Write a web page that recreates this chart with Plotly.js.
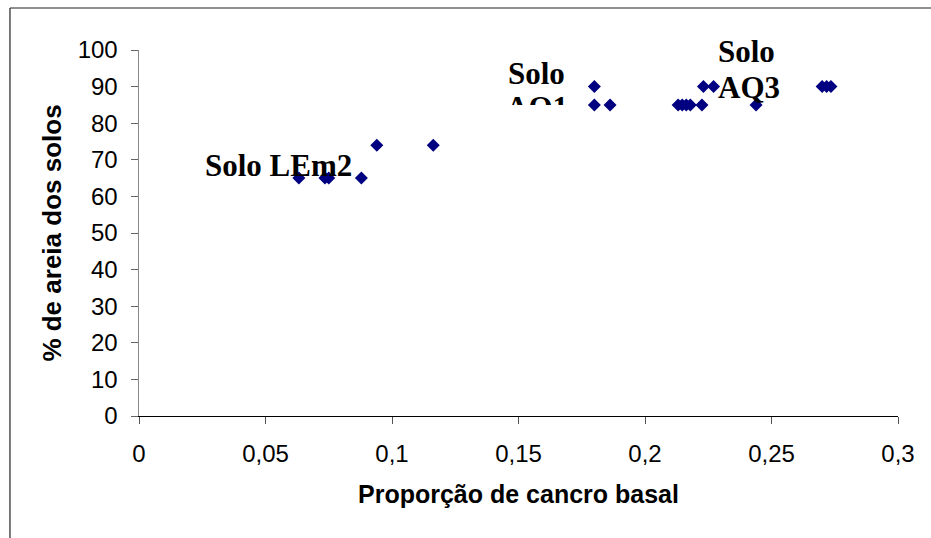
<!DOCTYPE html>
<html>
<head>
<meta charset="utf-8">
<script src="https://cdn.plot.ly/plotly-3.0.1.min.js"></script>
<style>html,body{margin:0;padding:0;background:#fff;}#chart{width:931px;height:538px;}</style>
</head>
<body>
<div id="chart"></div>
<script>
// Data
var proporcaoCancro = [0.0632, 0.0735, 0.0750, 0.0879, 0.0940, 0.1163, 0.1800, 0.1800, 0.1862, 0.2131, 0.2147, 0.2163, 0.2179, 0.2225, 0.2231, 0.2271, 0.2439, 0.2700, 0.2718, 0.2735];
var areiaSolo      = [65, 65, 65, 65, 74, 74, 90, 85, 85, 85, 85, 85, 85, 85, 90, 90, 85, 90, 90, 90];

var xTitle = "Proporção de cancro basal";
var yTitle = "% de areia dos solos";
var labelTexts = ["Solo LEm2", "Solo", "AQ1", "Solo", "AQ3"];

var trace = {
  x: proporcaoCancro,
  y: areiaSolo,
  type: "scatter",
  mode: "markers",
  marker: {symbol: "diamond", size: 10, color: "#000080", line: {width: 0}},
  showlegend: false,
  hoverinfo: "x+y"
};

var labelFont = {family: "Liberation Serif, Times New Roman, serif", size: 31, color: "#000"};
function lab(t, x, y) {
  return {text: "<b>" + t + "</b>", x: x, y: y, xref: "x", yref: "y", showarrow: false,
          xanchor: "center", yanchor: "middle", font: labelFont};
}

var layout = {
  width: 931, height: 538,
  margin: {l: 139, r: 33, t: 50, b: 122, autoexpand: false},
  paper_bgcolor: "#fff", plot_bgcolor: "#fff",
  separators: ",.",
  font: {family: "Liberation Sans, Arial, sans-serif", color: "#000"},
  xaxis: {
    range: [0, 0.3], dtick: 0.05, tick0: 0,
    showgrid: false, zeroline: false,
    showline: true, linecolor: "#000", linewidth: 1,
    ticks: "outside", ticklen: 7, tickcolor: "#555", tickwidth: 1,
    tickfont: {size: 24, family: "Liberation Sans, Arial, sans-serif", color: "#000"},
    ticklabelstandoff: 9,
    automargin: false,
    title: {text: "<b>" + xTitle + "</b>", font: {size: 25, family: "Liberation Sans, Arial, sans-serif", color: "#000"}, standoff: 19}
  },
  yaxis: {
    range: [0, 100], dtick: 10, tick0: 0,
    showgrid: false, zeroline: false,
    showline: true, linecolor: "#888", linewidth: 1.5,
    ticks: "outside", ticklen: 7, tickcolor: "#666", tickwidth: 1,
    tickfont: {size: 24, family: "Liberation Sans, Arial, sans-serif", color: "#000"},
    ticklabelstandoff: 8,
    automargin: false,
    title: {text: "<b>" + yTitle + "</b>", font: {size: 26, family: "Liberation Sans, Arial, sans-serif", color: "#000"}, standoff: 8}
  },
  shapes: [
    {type: "line", xref: "paper", yref: "paper", x0: -0.170, x1: 1.2, y0: 1.1148, y1: 1.1148, line: {color: "#222", width: 1.2}},
    {type: "line", xref: "paper", yref: "paper", x0: -0.170, x1: -0.170, y0: 1.1148, y1: -0.5, line: {color: "#222", width: 1.2}}
  ],
  annotations: [
    lab(labelTexts[0], 0.0553, 68.4),
    lab(labelTexts[1], 0.1573, 93.6),
    lab(labelTexts[2], 0.1573, 84.3),
    {text: " ", x: 0.1573, y: 82.0, xref: "x", yref: "y", showarrow: false, xanchor: "center", yanchor: "middle",
     width: 72, height: 20, bgcolor: "#fff", borderwidth: 0, font: {size: 10}},
    lab(labelTexts[3], 0.2403, 99.7),
    lab(labelTexts[4], 0.2413, 89.8)
  ]
};

Plotly.newPlot("chart", [trace], layout, {displayModeBar: false, staticPlot: true});
</script>
</body>
</html>
